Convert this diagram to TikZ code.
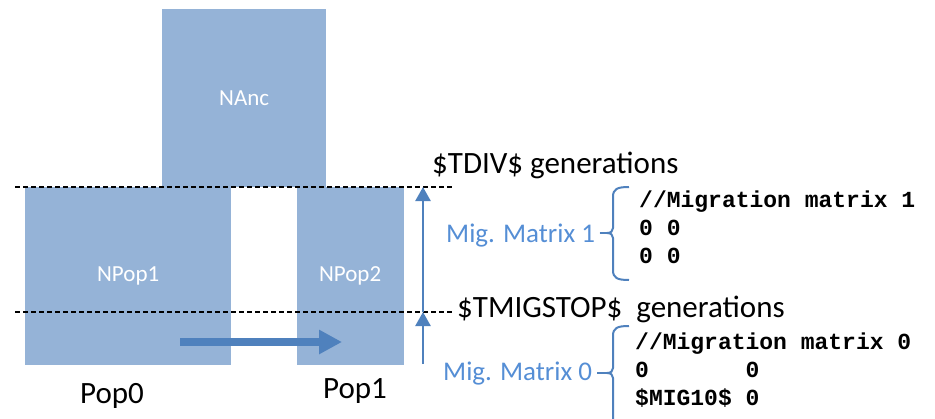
\documentclass[tikz,border=0pt]{standalone}
\usepackage{fontspec}
\setmainfont{Carlito}
\newfontfamily\codefont{Liberation Mono}
\usetikzlibrary{arrows.meta,positioning}

\definecolor{boxblue}{HTML}{95B3D7}
\definecolor{arrowblue}{HTML}{4F81BD}
\definecolor{labelblue}{HTML}{558ED5}

\begin{document}
\begin{tikzpicture}[%
    x=1pt, y=-1pt,                        % pixel grid, y runs downwards
    >={Triangle[width=15pt,length=14pt]}, % arrow tip for the time axis
    ]
% -------------------------------------------------
% Styles for boxes, labels and lines
\tikzset{
  box/.style={fill=boxblue, inner sep=0pt, anchor=north west, minimum height=178pt,
              text=white, font=\fontsize{23}{28}\selectfont},
  lbl/.style={inner sep=0pt, anchor=base west, font=\fontsize{31}{37}\selectfont},
  miglbl/.style={inner sep=0pt, anchor=base west, text=labelblue, font=\fontsize{27}{32}\selectfont},
  code/.style={inner sep=0pt, anchor=base west, font=\codefont\bfseries\fontsize{23}{28}\selectfont},
  % line styles
  gen/.style={draw, dash pattern=on 5pt off 3pt, line width=1.2pt},
  tarr/.style={->, draw=arrowblue, line width=2.5pt},
  migarr/.style={-{Triangle[width=23pt,length=23pt]}, draw=arrowblue, line width=8pt},
  brc/.style={draw=arrowblue, line width=2pt}
}
\useasboundingbox (0,0) rectangle (935,418);
% -------------------------------------------------
% Population boxes
\node [box, minimum width=164pt] (anc) at (162,9) {NAnc};
\node [box, minimum width=206pt] (pop1) at (25,187) {NPop1};
\node [box, minimum width=107pt, right=65pt of pop1.north east, anchor=north west] (pop2) {NPop2};

\node [lbl] (p0) at (80,403) {Pop0};
\node [lbl] (p1) at (323,398) {Pop1};

% Time lines
\coordinate (divL) at (15,187);  \coordinate (divR) at (452,187);
\coordinate (stopL) at (15,312); \coordinate (stopR) at (452,312);
\coordinate (now) at (423,364);
\coordinate (div) at (423,187);
\coordinate (stop) at (423,312);

\draw[gen] (divL) -- (divR);     % split time
\draw[gen] (stopL) -- (stopR);   % end of migration

\node [lbl] (tdiv) at (432,173) {\$TDIV\$ generations};
\node [lbl] (tstop) at (457,317) {\$TMIGSTOP\$\ \ generations};

\draw[tarr] (now) -- (stop);
\draw[tarr] (stop) -- (div);

% Migration arrow Pop0 -> Pop1
\coordinate (migA) at (180,342);
\coordinate (migB) at (342,342);
\draw[migarr] (migA) -- (migB);

% -------------------------------------------------
% Matrix labels and braces
\node [miglbl] (mig1) at (446,242) {Mig. Matrix 1};
\node [miglbl] (mig0) at (443,380) {Mig. Matrix 0};

\coordinate (tip1) at (607,233);
\coordinate (tip0) at (607,373);

\draw[brc] (629,187) .. controls (617,187) and (613,189) .. (613,197) -- (613,228)
  .. controls (613,231) and (611,233) .. (tip1) .. controls (611,233) and (613,235) .. (613,238)
  -- (613,270) .. controls (613,278) and (617,280) .. (629,280);
\draw[brc] (629,326) .. controls (617,326) and (613,328) .. (613,336) -- (613,368)
  .. controls (613,371) and (611,373) .. (tip0) .. controls (611,373) and (613,375) .. (613,378)
  -- (613,430);

\draw[brc, shorten <=5pt] (mig1.east |- tip1) -- (tip1);
\draw[brc, shorten <=5pt] (mig0.east |- tip0) -- (tip0);

% Matrix text
\node [code] (m1a) at (639,207) {//Migration matrix 1};
\node [code, below=28pt of m1a.base west, anchor=base west] (m1b) {0 0};
\node [code, below=28pt of m1b.base west, anchor=base west] (m1c) {0 0};

\node [code] (m0a) at (635,349) {//Migration matrix 0};
\node [code, below=28pt of m0a.base west, anchor=base west] (m0b) {0\ \ \ \ \ \ \ 0};
\node [code, below=28pt of m0b.base west, anchor=base west] (m0c) {\$MIG10\$ 0};
% -------------------------------------------------
\end{tikzpicture}
\end{document}
